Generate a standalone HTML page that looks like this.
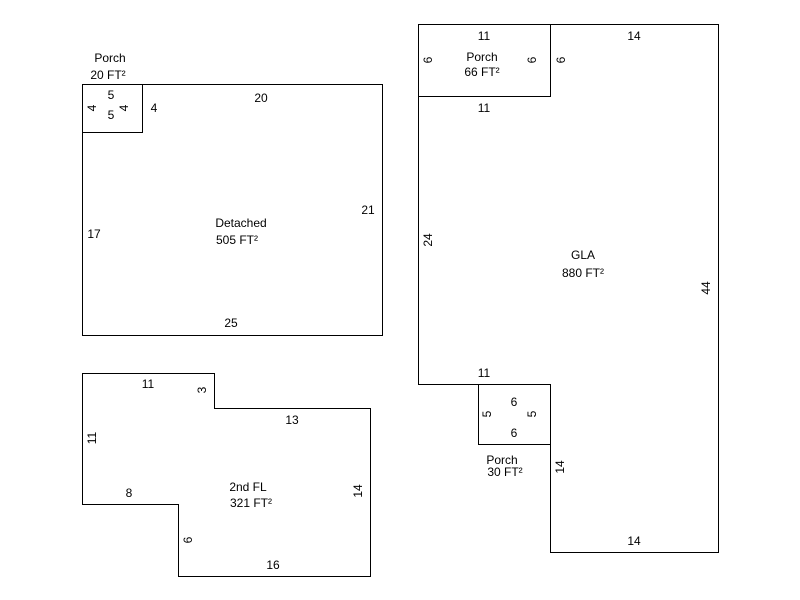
<!DOCTYPE html>
<html><head><style>body{margin:0;background:#fff}svg{display:block}text{font-family:"Liberation Sans",Arial,sans-serif;font-size:12px;fill:#000}</style></head>
<body>
<svg width="800" height="600" xmlns="http://www.w3.org/2000/svg">
<g fill="none" stroke="#000" stroke-width="1">
<rect x="82.5" y="84.5" width="300" height="251"/>
<rect x="82.5" y="84.5" width="60" height="48"/>
<polygon points="418.5,24.5 718.5,24.5 718.5,552.5 550.5,552.5 550.5,384.5 418.5,384.5"/>
<rect x="418.5" y="24.5" width="132" height="72"/>
<rect x="478.5" y="384.5" width="72" height="60"/>
<polygon points="82.5,373.5 214.5,373.5 214.5,408.5 370.5,408.5 370.5,576.5 178.5,576.5 178.5,504.5 82.5,504.5"/>
</g>
<g text-anchor="middle">
<text x="110" y="62">Porch</text>
<text x="108" y="79">20 FT²</text>
<text x="111" y="99">5</text>
<text x="111" y="119">5</text>
<text x="154" y="112">4</text>
<text x="261" y="102">20</text>
<text x="94" y="238">17</text>
<text x="368" y="214">21</text>
<text x="241" y="227">Detached</text>
<text x="237" y="244">505 FT²</text>
<text x="231" y="327">25</text>
<text transform="translate(96,108) rotate(-90)">4</text>
<text transform="translate(128,108) rotate(-90)">4</text>

<text x="484" y="40">11</text>
<text x="482" y="61">Porch</text>
<text x="482" y="76">66 FT²</text>
<text x="484" y="112">11</text>
<text x="634" y="40">14</text>
<text transform="translate(432,60) rotate(-90)">6</text>
<text transform="translate(536,60) rotate(-90)">6</text>
<text transform="translate(565,60) rotate(-90)">6</text>
<text transform="translate(432,240) rotate(-90)">24</text>
<text x="583" y="259">GLA</text>
<text x="583" y="277">880 FT²</text>
<text transform="translate(710,288) rotate(-90)">44</text>
<text x="484" y="377">11</text>
<text x="514" y="406">6</text>
<text x="514" y="437">6</text>
<text transform="translate(491,414) rotate(-90)">5</text>
<text transform="translate(536,414) rotate(-90)">5</text>
<text x="502" y="464">Porch</text>
<text x="505" y="476">30 FT²</text>
<text transform="translate(564,467) rotate(-90)">14</text>
<text x="634" y="545">14</text>

<text x="148" y="388">11</text>
<text transform="translate(206,390) rotate(-90)">3</text>
<text x="292" y="424">13</text>
<text transform="translate(96,438) rotate(-90)">11</text>
<text x="129" y="497">8</text>
<text x="248" y="491">2nd FL</text>
<text x="251" y="507">321 FT²</text>
<text transform="translate(362,491) rotate(-90)">14</text>
<text transform="translate(192,540) rotate(-90)">6</text>
<text x="273" y="569">16</text>
</g>
</svg>
</body></html>
